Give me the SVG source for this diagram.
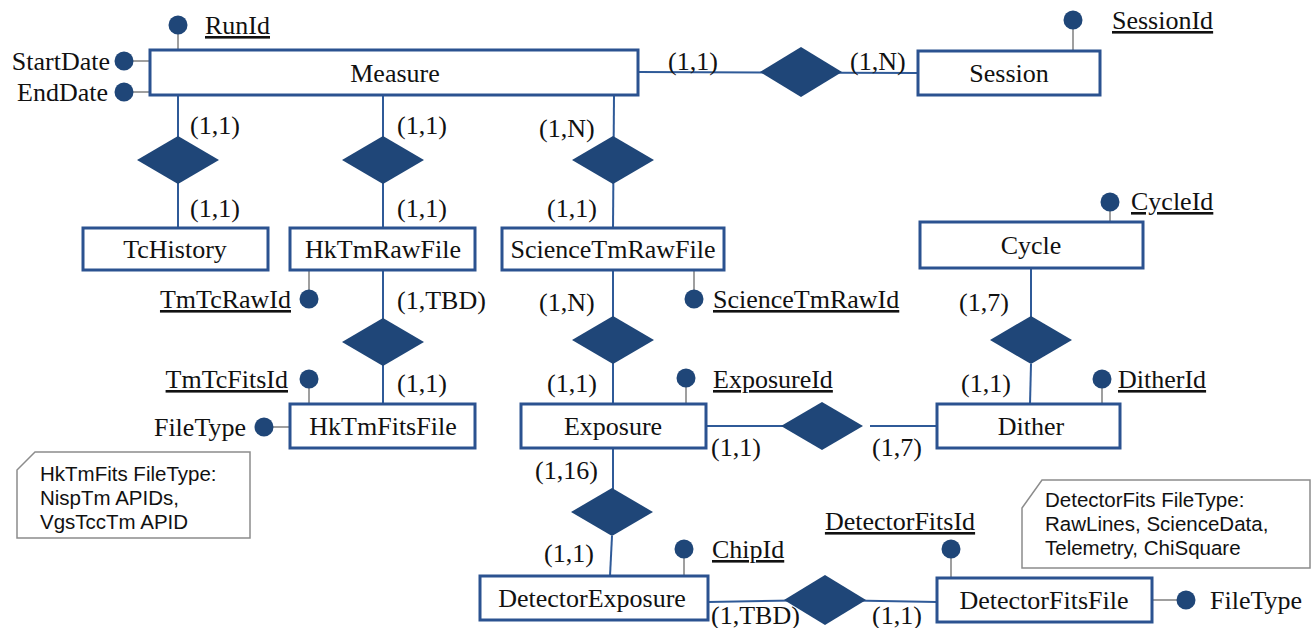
<svg xmlns="http://www.w3.org/2000/svg" width="1315" height="628" viewBox="0 0 1315 628">
<style>
.ent{fill:#fff;stroke:#2B5290;stroke-width:3}
.rel{fill:#1F4678}
.ln{stroke:#2F5A98;stroke-width:2;fill:none}
.al{stroke:#7F7F7F;stroke-width:1.5;fill:none}
.dot{fill:#1F4678}
.t{font-family:"Liberation Serif","Times New Roman",serif;font-size:26px;fill:#111}
.c{text-anchor:middle}
.e{text-anchor:end}
.u{text-decoration:underline}
.note{fill:#fff;stroke:#8C8C8C;stroke-width:1.5}
.n{font-family:"Liberation Sans",Arial,sans-serif;font-size:20.5px;fill:#111}
</style>
<rect width="1315" height="628" fill="#fff"/>
<g id="connectors">
<line class="ln" x1="638" y1="72" x2="918" y2="73"/>
<line class="ln" x1="178" y1="95" x2="178" y2="228"/>
<line class="ln" x1="383" y1="95" x2="383" y2="228"/>
<line class="ln" x1="614" y1="95" x2="613" y2="228"/>
<line class="ln" x1="383" y1="270" x2="383" y2="404"/>
<line class="ln" x1="613" y1="270" x2="613" y2="404"/>
<line class="ln" x1="706" y1="426" x2="790" y2="426"/>
<line class="ln" x1="870" y1="426" x2="937" y2="426"/>
<line class="ln" x1="1031" y1="268" x2="1031" y2="340"/>
<line class="ln" x1="1031" y1="364" x2="1030" y2="404"/>
<line class="ln" x1="613" y1="448" x2="613" y2="512"/>
<line class="ln" x1="612" y1="536" x2="610" y2="576"/>
<line class="ln" x1="708" y1="602" x2="825" y2="600"/>
<line class="ln" x1="825" y1="600" x2="937" y2="602"/>
</g>
<g id="attr-lines">
<line class="al" x1="178" y1="25" x2="178" y2="50"/>
<line class="al" x1="124" y1="61" x2="150" y2="61"/>
<line class="al" x1="124" y1="92" x2="150" y2="92"/>
<line class="al" x1="1073" y1="20" x2="1073" y2="51"/>
<line class="al" x1="309" y1="270" x2="309" y2="299"/>
<line class="al" x1="309" y1="379" x2="309" y2="404"/>
<line class="al" x1="264" y1="427" x2="290" y2="427"/>
<line class="al" x1="694" y1="270" x2="694" y2="299"/>
<line class="al" x1="686" y1="378" x2="686" y2="404"/>
<line class="al" x1="1110" y1="202" x2="1110" y2="222"/>
<line class="al" x1="1102" y1="379" x2="1102" y2="404"/>
<line class="al" x1="684" y1="549" x2="684" y2="576"/>
<line class="al" x1="951" y1="549" x2="951" y2="578"/>
<line class="al" x1="1152" y1="600" x2="1186" y2="600"/>
</g>
<g id="rel-measure-session"><polygon class="rel" points="801,47 842,72 801,97 760,72"/></g>
<g id="rel-measure-tchistory"><polygon class="rel" points="178,136 219,160 178,184 137,160"/></g>
<g id="rel-measure-hktmraw"><polygon class="rel" points="383,136 424,160 383,184 342,160"/></g>
<g id="rel-measure-sciraw"><polygon class="rel" points="613,136 654,160 613,184 572,160"/></g>
<g id="rel-hkraw-hkfits"><polygon class="rel" points="383,318 424,342 383,366 342,342"/></g>
<g id="rel-sciraw-exposure"><polygon class="rel" points="613,316 654,340 613,364 572,340"/></g>
<g id="rel-cycle-dither"><polygon class="rel" points="1031,316 1072,340 1031,364 990,340"/></g>
<g id="rel-exposure-dither"><polygon class="rel" points="822,402 863,426 822,450 781,426"/></g>
<g id="rel-exposure-detexp"><polygon class="rel" points="612,488 653,512 612,536 571,512"/></g>
<g id="rel-detexp-detfits"><polygon class="rel" points="825,575 866,600 825,625 784,600"/></g>

<g id="measure">
<rect class="ent" x="150" y="50" width="488" height="45"/>
<text class="t c" x="395" y="82">Measure</text>
<circle class="dot" cx="178" cy="25" r="9.5"/><text class="t u" x="205" y="34">RunId</text>
<circle class="dot" cx="124" cy="61" r="9.5"/><text class="t e" x="110" y="70">StartDate</text>
<circle class="dot" cx="124" cy="92" r="9.5"/><text class="t e" x="108" y="101">EndDate</text>
</g>
<g id="session">
<rect class="ent" x="918" y="51" width="182" height="44"/>
<text class="t c" x="1009" y="82">Session</text>
<circle class="dot" cx="1073" cy="20" r="9.5"/><text class="t u" x="1112" y="29">SessionId</text>
</g>
<g id="tchistory">
<rect class="ent" x="83" y="228" width="185" height="42"/>
<text class="t c" x="175" y="258">TcHistory</text>
</g>
<g id="hktmrawfile">
<rect class="ent" x="290" y="228" width="185" height="42"/>
<text class="t c" x="383" y="258">HkTmRawFile</text>
<circle class="dot" cx="309" cy="299" r="9.5"/><text class="t e u" x="291" y="308">TmTcRawId</text>
</g>
<g id="sciencetmrawfile">
<rect class="ent" x="502" y="228" width="222" height="42"/>
<text class="t c" x="613" y="258">ScienceTmRawFile</text>
<circle class="dot" cx="694" cy="299" r="9.5"/><text class="t u" x="713" y="308">ScienceTmRawId</text>
</g>
<g id="cycle">
<rect class="ent" x="920" y="222" width="223" height="46"/>
<text class="t c" x="1031" y="254">Cycle</text>
<circle class="dot" cx="1110" cy="202" r="9.5"/><text class="t u" x="1131" y="210">CycleId</text>
</g>
<g id="hktmfitsfile">
<rect class="ent" x="290" y="404" width="185" height="44"/>
<text class="t c" x="383" y="435">HkTmFitsFile</text>
<circle class="dot" cx="309" cy="379" r="9.5"/><text class="t e u" x="288" y="388">TmTcFitsId</text>
<circle class="dot" cx="264" cy="427" r="9.5"/><text class="t e" x="246" y="436">FileType</text>
</g>
<g id="exposure">
<rect class="ent" x="521" y="404" width="185" height="44"/>
<text class="t c" x="613" y="435">Exposure</text>
<circle class="dot" cx="686" cy="378" r="9.5"/><text class="t u" x="713" y="388">ExposureId</text>
</g>
<g id="dither">
<rect class="ent" x="937" y="404" width="183" height="44"/>
<text class="t c" x="1031" y="435">Dither</text>
<circle class="dot" cx="1102" cy="379" r="9.5"/><text class="t u" x="1118" y="388">DitherId</text>
</g>
<g id="detectorexposure">
<rect class="ent" x="480" y="576" width="228" height="44"/>
<text class="t c" x="592" y="607">DetectorExposure</text>
<circle class="dot" cx="684" cy="549" r="9.5"/><text class="t u" x="712" y="558">ChipId</text>
</g>
<g id="detectorfitsfile">
<rect class="ent" x="937" y="578" width="215" height="44"/>
<text class="t c" x="1044" y="609">DetectorFitsFile</text>
<circle class="dot" cx="951" cy="549" r="9.5"/><text class="t c u" x="900" y="530">DetectorFitsId</text>
<circle class="dot" cx="1186" cy="600" r="9.5"/><text class="t" x="1210" y="609">FileType</text>
</g>
<g id="note-hktmfits">
<polygon class="note" points="35,452 250,452 250,538 17,538 17,470"/>
<text class="n" x="40" y="481">HkTmFits FileType:</text>
<text class="n" x="40" y="505">NispTm APIDs,</text>
<text class="n" x="40" y="529">VgsTccTm APID</text>
</g>
<g id="note-detectorfits">
<polygon class="note" points="1042,480 1310,480 1310,568 1022,568 1022,508"/>
<text class="n" x="1045" y="507">DetectorFits FileType:</text>
<text class="n" x="1045" y="531">RawLines, ScienceData,</text>
<text class="n" x="1045" y="555">Telemetry, ChiSquare</text>
</g>
<g id="cardinalities">
<text class="t" x="668" y="70">(1,1)</text>
<text class="t" x="850" y="70">(1,N)</text>
<text class="t" x="190" y="134">(1,1)</text>
<text class="t" x="190" y="217">(1,1)</text>
<text class="t" x="397" y="134">(1,1)</text>
<text class="t" x="397" y="217">(1,1)</text>
<text class="t" x="539" y="137">(1,N)</text>
<text class="t" x="547" y="217">(1,1)</text>
<text class="t" x="397" y="309">(1,TBD)</text>
<text class="t" x="397" y="392">(1,1)</text>
<text class="t" x="539" y="311">(1,N)</text>
<text class="t" x="547" y="392">(1,1)</text>
<text class="t" x="959" y="311">(1,7)</text>
<text class="t" x="961" y="392">(1,1)</text>
<text class="t" x="711" y="456">(1,1)</text>
<text class="t" x="872" y="456">(1,7)</text>
<text class="t" x="535" y="479">(1,16)</text>
<text class="t" x="544" y="562">(1,1)</text>
<text class="t" x="711" y="624">(1,TBD)</text>
<text class="t" x="872" y="624">(1,1)</text>
</g>
</svg>
